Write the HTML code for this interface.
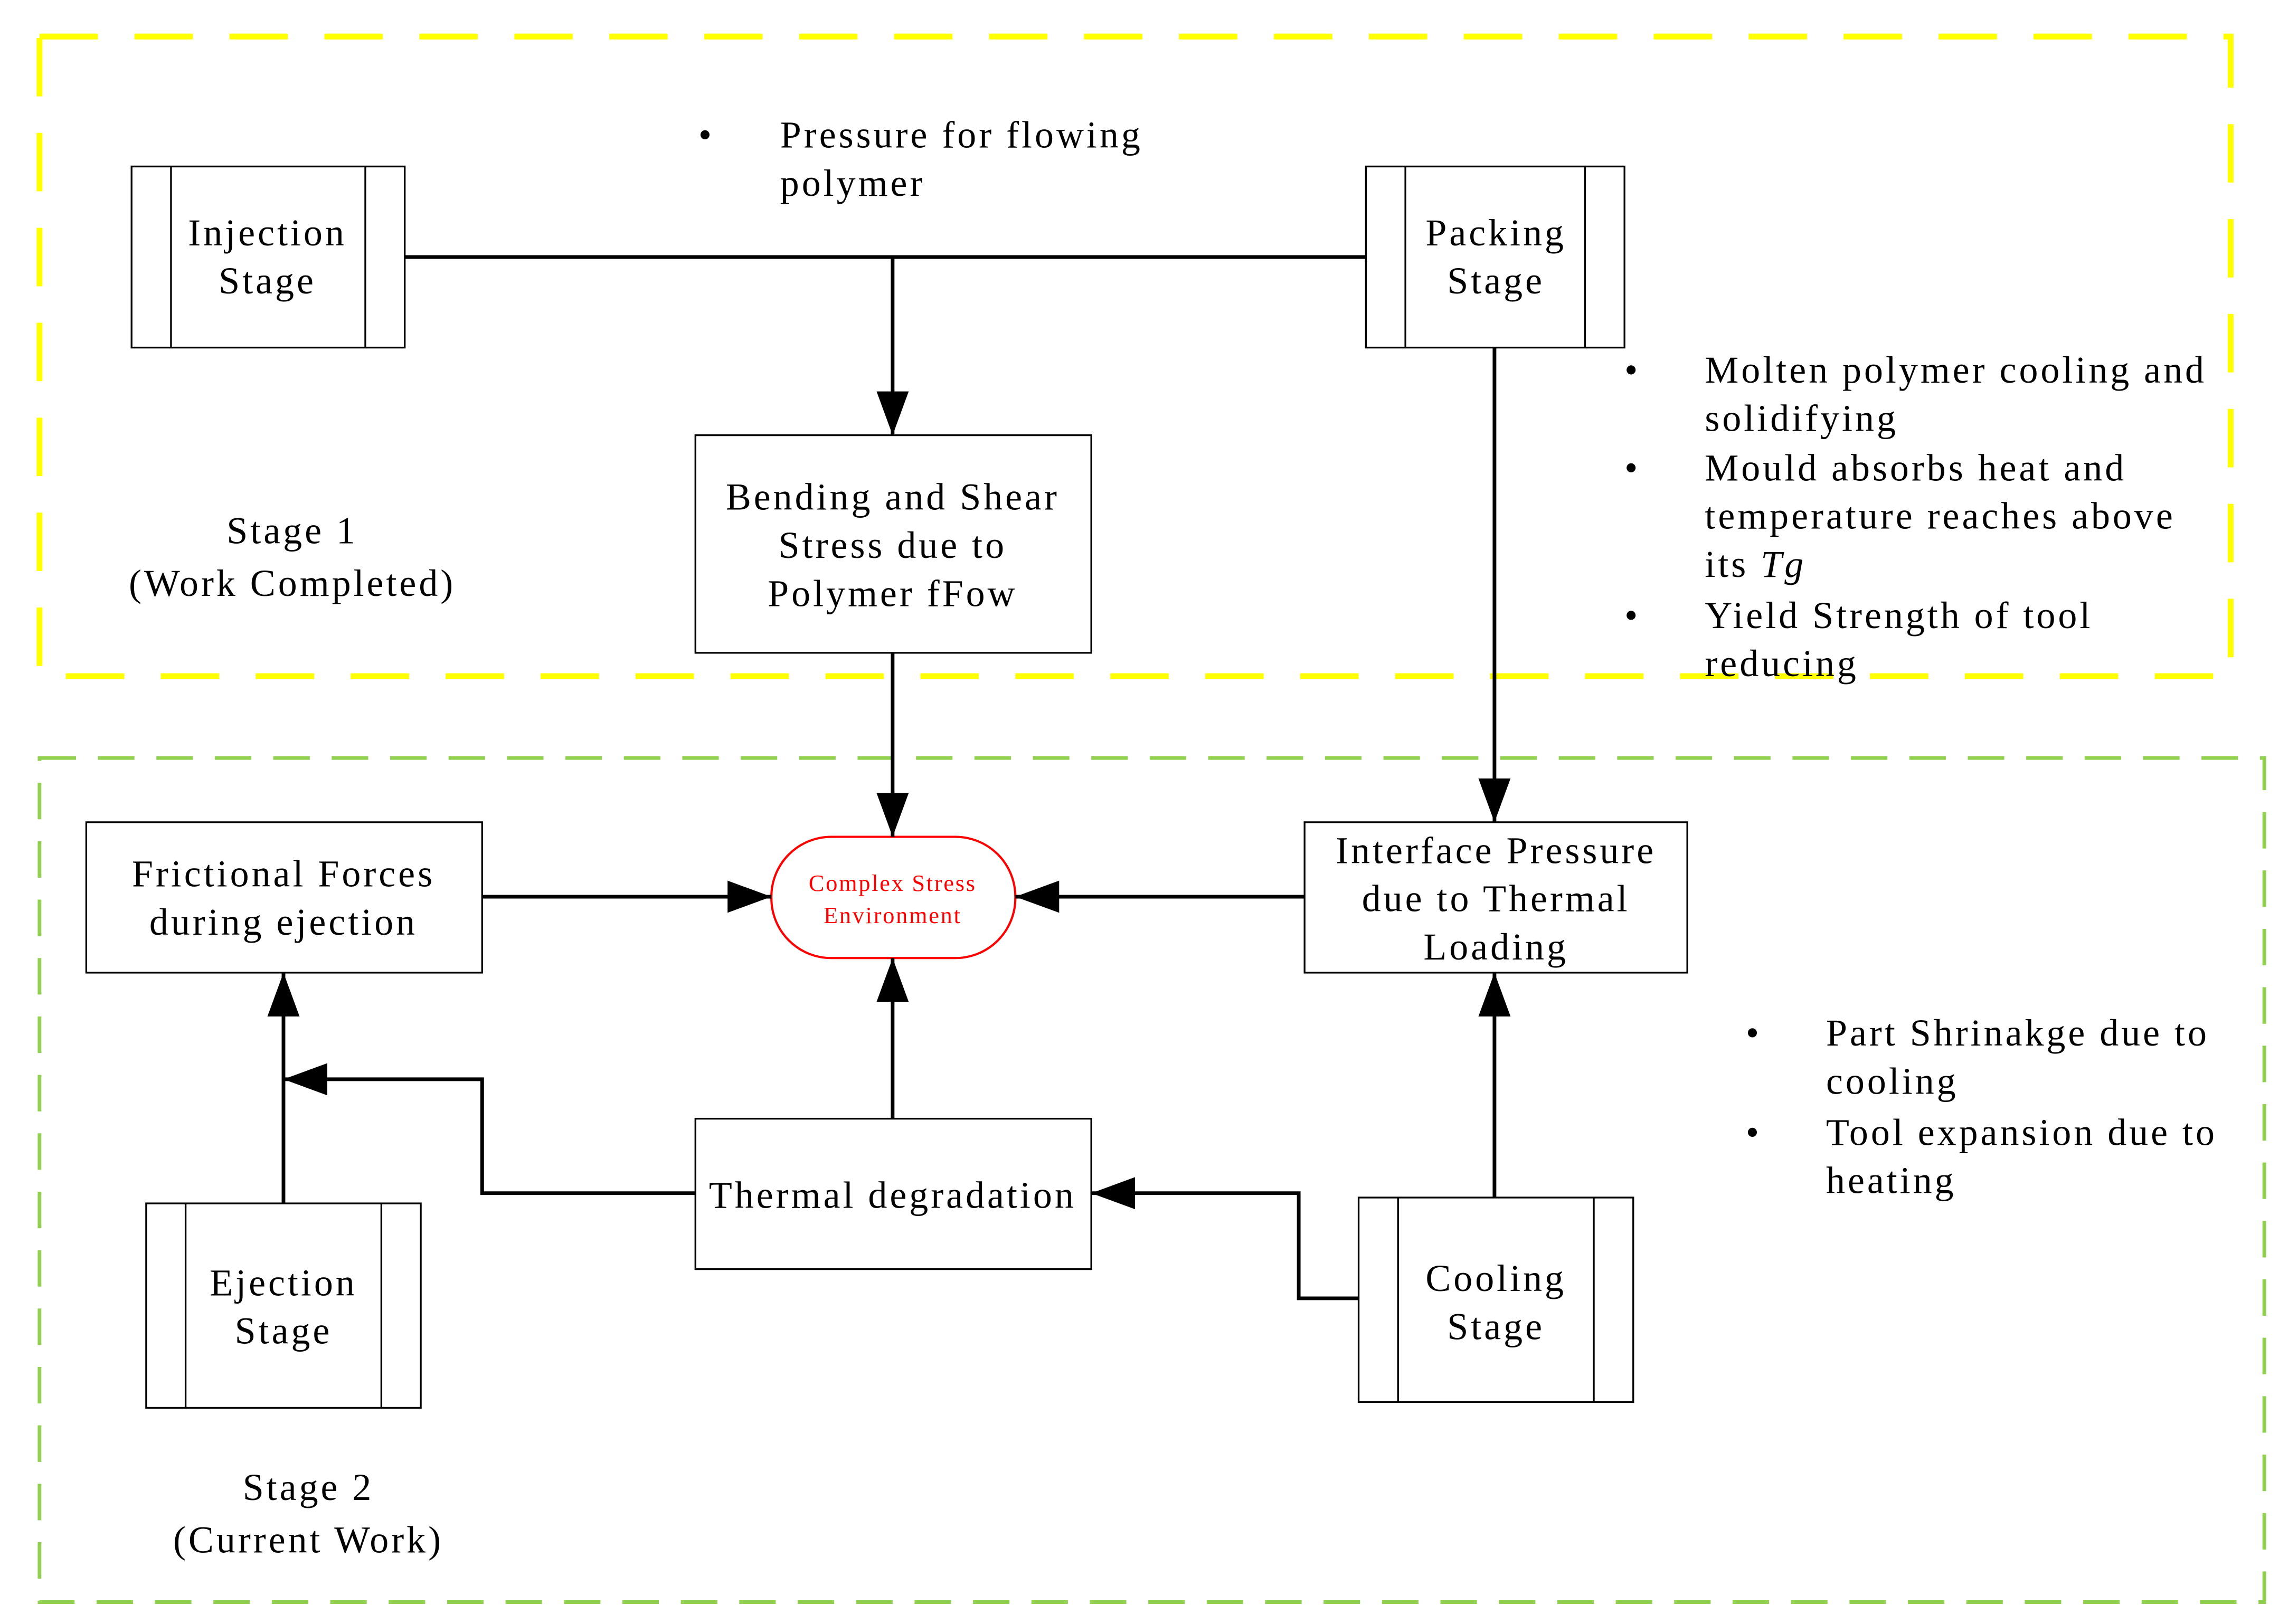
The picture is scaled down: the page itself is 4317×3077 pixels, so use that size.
<!DOCTYPE html>
<html><head><meta charset="utf-8"><style>html,body{margin:0;padding:0;background:#fff}svg{display:block}</style></head>
<body>
<svg width="4317" height="3077" viewBox="0 0 1560 1112" xmlns="http://www.w3.org/2000/svg" font-family="Liberation Serif, serif" font-size="26" letter-spacing="1.8">
<defs>
<marker id="b" markerWidth="30" markerHeight="22" refX="30" refY="11" orient="auto" markerUnits="userSpaceOnUse"><path d="M0,0 L30,11 L0,22 z" fill="#000"/></marker></defs>
<rect x="27" y="25" width="1500" height="438" fill="none" stroke="#ffff00" stroke-width="4" stroke-dasharray="40 25"/>
<rect x="27" y="519" width="1523" height="578" fill="none" stroke="#92d050" stroke-width="2.5" stroke-dasharray="25 15"/>
<g fill="none" stroke="#000" stroke-width="1.2">
<rect x="90" y="114" width="187" height="124"/><line x1="117" y1="114" x2="117" y2="238"/><line x1="250" y1="114" x2="250" y2="238"/>
<rect x="935" y="114" width="177" height="124"/><line x1="962" y1="114" x2="962" y2="238"/><line x1="1085" y1="114" x2="1085" y2="238"/>
<rect x="476" y="298" width="271" height="149"/>
<rect x="893" y="563" width="262" height="103"/>
<rect x="59" y="563" width="271" height="103"/>
<rect x="476" y="766" width="271" height="103"/>
<rect x="100" y="824" width="188" height="140"/><line x1="127" y1="824" x2="127" y2="964"/><line x1="261" y1="824" x2="261" y2="964"/>
<rect x="930" y="820" width="188" height="140"/><line x1="957" y1="820" x2="957" y2="960"/><line x1="1091" y1="820" x2="1091" y2="960"/>
</g>
<rect x="528" y="573" width="167" height="83" rx="41" fill="none" stroke="#f00" stroke-width="1.5"/>
<g fill="none" stroke="#000" stroke-width="2.5">
<line x1="277" y1="176" x2="935" y2="176"/>
<line x1="611" y1="176" x2="611" y2="298" marker-end="url(#b)"/>
<line x1="611" y1="447" x2="611" y2="573" marker-end="url(#b)"/>
<line x1="1023" y1="238" x2="1023" y2="563" marker-end="url(#b)"/>
<line x1="330" y1="614" x2="528" y2="614" marker-end="url(#b)"/>
<line x1="893" y1="614" x2="695" y2="614" marker-end="url(#b)"/>
<line x1="611" y1="766" x2="611" y2="656" marker-end="url(#b)"/>
<polyline points="476,817 330,817 330,739 194,739" marker-end="url(#b)"/>
<line x1="194" y1="824" x2="194" y2="666" marker-end="url(#b)"/>
<polyline points="930,889 889,889 889,817 747,817" marker-end="url(#b)"/>
<line x1="1023" y1="820" x2="1023" y2="666" marker-end="url(#b)"/>
</g>
<g text-anchor="middle" fill="#000">
<text x="183" y="168">Injection</text><text x="183" y="201">Stage</text>
<text x="1024" y="168">Packing</text><text x="1024" y="201">Stage</text>
<text x="611" y="349">Bending and Shear</text><text x="611" y="382">Stress due to</text><text x="611" y="415">Polymer fFow</text>
<text x="200" y="372">Stage 1</text><text x="200" y="408">(Work Completed)</text>
<text x="1024" y="591">Interface Pressure</text><text x="1024" y="624">due to Thermal</text><text x="1024" y="657">Loading</text>
<text x="194" y="607">Frictional Forces</text><text x="194" y="640">during ejection</text>
<text x="611" y="827">Thermal degradation</text>
<text x="194" y="887">Ejection</text><text x="194" y="920">Stage</text>
<text x="1024" y="884">Cooling</text><text x="1024" y="917">Stage</text>
<text x="211" y="1027">Stage 2</text><text x="211" y="1063">(Current Work)</text>
<text x="611" y="610" fill="#f00" font-size="16" letter-spacing="1">Complex Stress</text><text x="611" y="632" fill="#f00" font-size="16" letter-spacing="1">Environment</text>
</g>
<g fill="#000">
<text x="478" y="101">•</text><text x="534" y="101">Pressure for flowing</text><text x="534" y="134">polymer</text>
<text x="1112" y="262">•</text><text x="1167" y="262">Molten polymer cooling and</text><text x="1167" y="295">solidifying</text>
<text x="1112" y="329">•</text><text x="1167" y="329">Mould absorbs heat and</text><text x="1167" y="362">temperature reaches above</text><text x="1167" y="395">its <tspan font-style="italic">Tg</tspan></text>
<text x="1112" y="430">•</text><text x="1167" y="430">Yield Strength of tool</text><text x="1167" y="463">reducing</text>
<text x="1195" y="716">•</text><text x="1250" y="716">Part Shrinakge due to</text><text x="1250" y="749">cooling</text>
<text x="1195" y="784">•</text><text x="1250" y="784">Tool expansion due to</text><text x="1250" y="817">heating</text>
</g>
</svg>
</body></html>
